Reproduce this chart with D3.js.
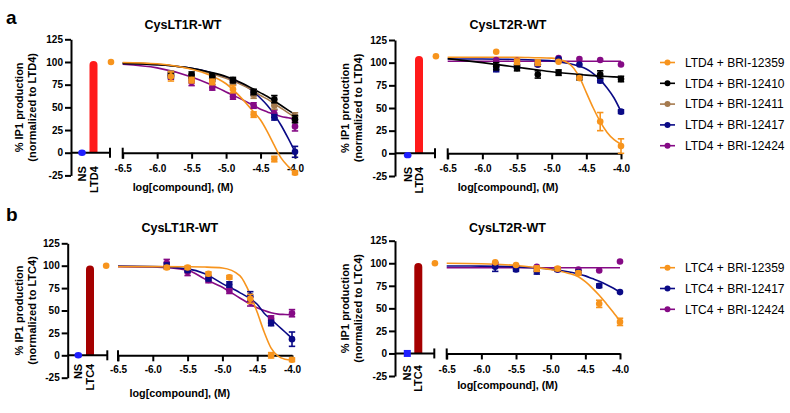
<!DOCTYPE html>
<html><head><meta charset="utf-8">
<script src="https://cdn.jsdelivr.net/npm/d3@7"></script>
<style>
body{margin:0;background:#fff}
svg{display:block}
text{font-family:"Liberation Sans",Arial,Helvetica,sans-serif;fill:#000}
</style>
</head><body>
<svg id="c" width="790" height="413"></svg>
<script>
// ---------------- DATA ----------------
const concs = [-5.8, -5.5, -5.2, -4.9, -4.6, -4.3, -4.0];
const refConc = -6.67;
const fitX = [-6.5, -6.0, -5.5, -5.25, -5.0, -4.75, -4.6, -4.5, -4.4, -4.3, -4.2, -4.1, -4.0];
const xTicks = [-6.5, -6.0, -5.5, -5.0, -4.5, -4.0];
const yTicks = [-25, 0, 25, 50, 75, 100, 125];

const titles = ["CysLT1R-WT", "CysLT2R-WT", "CysLT1R-WT", "CysLT2R-WT"];
const agonists = ["LTD4", "LTD4", "LTC4", "LTC4"];
const barValues = [101, 107, 100, 100];
const nsValues = [0, -2, 0, 0];
const refValues = [100, 107, 100, 100];

const compoundsA = ["BRI-12359", "BRI-12410", "BRI-12411", "BRI-12417", "BRI-12424"];
const compoundsB = ["BRI-12359", "BRI-12417", "BRI-12424"];

// panel a, CysLT1R
const a1_12359 = [84, 80, 78, 70, 42, -7, -22];
const a1_12359_err = [5, 3, 3, 4, 3, 3, 2];
const a1_12359_fit = [99.5, 98, 92, 86, 76, 58, 45, 36, 23, 8, -6, -15, -22];
const a1_12410 = [85, 86, 84, 80, 67, 59, 37];
const a1_12410_err = [3, 3, 3, 3, 3, 4, 4];
const a1_12410_fit = [98.5, 97, 93, 89, 84, 76, 70, 66, 62, 57, 52, 47, 42];
const a1_12411 = [87, 84, 82, 78, 64, 52, 40];
const a1_12411_err = [3, 3, 3, 3, 4, 4, 4];
const a1_12411_fit = [99, 97.5, 92.5, 88, 82, 74, 68, 63, 59, 54, 49, 44, 39];
const a1_12417 = [86, 83, 82, 78, 66, 39, 1];
const a1_12417_err = [3, 3, 3, 3, 3, 3, 6];
const a1_12417_fit = [98.5, 97, 93, 89, 83, 75, 67, 60, 52, 42, 30, 16, 1];
const a1_12424 = [84, 78, 72, 62, 52, 43, 29];
const a1_12424_err = [3, 4, 3, 3, 3, 4, 5];
const a1_12424_fit = [97.5, 93.5, 83.5, 76, 67, 58, 52, 48, 45, 42, 40, 38.5, 37];

// panel a, CysLT2R
const a2_12359 = [112, 101, 100, 101, 83, 35, 8];
const a2_12359_err = [1, 3, 3, 1, 1, 10, 8];
const a2_12359_fit = [106, 106, 106, 105.5, 105, 99, 84, 67, 50, 35, 23, 15, 10];
const a2_12410 = [96, 94, 87, 89, 84, 87, 82];
const a2_12410_err = [4, 3, 4, 3, 3, 4, 3];
const a2_12410_fit = [104.5, 100, 95, 92.5, 90, 88, 87, 86.3, 85.7, 85.2, 84.7, 84.3, 84];
const a2_12417 = [93, 96, 98, 104, 98, 80, 46];
const a2_12417_err = [3, 2, 2, 1, 1, 2, 2];
const a2_12417_fit = [104, 104, 103.5, 103, 102, 99, 96, 93, 88, 81, 72, 61, 46];
const a2_12424 = [103, 102, 98, 105, 104, 103, 98];
const a2_12424_err = [1, 1, 1, 1, 1, 1, 1];
const a2_12424_fit = [101.5, 101.5, 101.5, 101.5, 101.5, 101.5, 101.5, 101.5, 101.5, 101.5, 101.5, 101.5, 101.5];

// panel b, CysLT1R
const b1_12359 = [98, 98, 91, 87, 63, 0, -5];
const b1_12359_err = [2, 2, 2, 2, 5, 3, 2];
const b1_12359_fit = [99, 99, 98.8, 98.5, 97.5, 89, 68, 48, 26, 8, -1, -4.5, -5.5];
const b1_12417 = [100, 95, 86, 79, 66, 36, 18];
const b1_12417_err = [3, 2, 3, 3, 5, 3, 8];
const b1_12417_fit = [99.5, 99, 96.5, 91, 80, 70, 63, 57, 47, 40, 33, 26, 19];
const b1_12424 = [103, 93, 84, 72, 60, 41, 47];
const b1_12424_err = [4, 4, 3, 3, 5, 3, 4];
const b1_12424_fit = [99, 98.5, 95, 85, 76, 64, 57, 53, 50, 47.5, 46, 45.5, 45];

// panel b, CysLT2R
const b2_12359 = [101, 98, 94, 94, 89, 55, 35];
const b2_12359_err = [1, 1, 3, 2, 2, 4, 4];
const b2_12359_fit = [100, 99.5, 97.5, 95.5, 93, 89, 85, 79.5, 72.5, 64.5, 55.5, 46, 36];
const b2_12417 = [96, 93, 91, 93, 90, 75, 68];
const b2_12417_err = [5, 2, 3, 2, 2, 2, 1];
const b2_12417_fit = [97, 96.8, 96, 95, 93.5, 90.5, 88, 86, 83, 80, 76.5, 72.5, 68];
const b2_12424 = [99, 97, 96, 93, 93, 92, 102];
const b2_12424_err = [1, 1, 1, 1, 1, 1, 1];
const b2_12424_fit = [95, 95, 95, 95, 95, 95, 95, 95, 95, 95, 95, 95, 95];

const panelSeries = [
  [
    {c: "BRI-12359", v: a1_12359, e: a1_12359_err, f: a1_12359_fit},
    {c: "BRI-12410", v: a1_12410, e: a1_12410_err, f: a1_12410_fit},
    {c: "BRI-12411", v: a1_12411, e: a1_12411_err, f: a1_12411_fit},
    {c: "BRI-12417", v: a1_12417, e: a1_12417_err, f: a1_12417_fit},
    {c: "BRI-12424", v: a1_12424, e: a1_12424_err, f: a1_12424_fit}
  ],
  [
    {c: "BRI-12359", v: a2_12359, e: a2_12359_err, f: a2_12359_fit},
    {c: "BRI-12410", v: a2_12410, e: a2_12410_err, f: a2_12410_fit},
    {c: "BRI-12417", v: a2_12417, e: a2_12417_err, f: a2_12417_fit},
    {c: "BRI-12424", v: a2_12424, e: a2_12424_err, f: a2_12424_fit}
  ],
  [
    {c: "BRI-12359", v: b1_12359, e: b1_12359_err, f: b1_12359_fit},
    {c: "BRI-12417", v: b1_12417, e: b1_12417_err, f: b1_12417_fit},
    {c: "BRI-12424", v: b1_12424, e: b1_12424_err, f: b1_12424_fit}
  ],
  [
    {c: "BRI-12359", v: b2_12359, e: b2_12359_err, f: b2_12359_fit},
    {c: "BRI-12417", v: b2_12417, e: b2_12417_err, f: b2_12417_fit},
    {c: "BRI-12424", v: b2_12424, e: b2_12424_err, f: b2_12424_fit}
  ]
];

// ---------------- STYLE / LAYOUT ----------------
const colorOf = {
  "BRI-12359": "#F7941D",
  "BRI-12410": "#000000",
  "BRI-12411": "#A57A4E",
  "BRI-12417": "#0A0A86",
  "BRI-12424": "#850A85"
};
const barColors = ["#FF1A1A", "#FF1A1A", "#A50000", "#A50000"];
const nsColor = "#1F1FFF";
const nsSquare = [false, false, false, true];

const layouts = [
  {yAxisX: 71, ns: 82, bar: 93.5, breakX: 110, xStart: 122.7, xEnd: 295, yTop: 39.3, yBot: 175.4, titleY: 28.5, tickPad: 6, catOff: 13.5, xTitleOff: 38, ylx: [19, 32]},
  {yAxisX: 395, ns: 407.7, bar: 419, breakX: 435, xStart: 447.7, xEnd: 621, yTop: 40, yBot: 176, titleY: 28.5, tickPad: 6, catOff: 13.5, xTitleOff: 38, ylx: [345, 358]},
  {yAxisX: 67.7, ns: 78.3, bar: 90, breakX: 107.3, xStart: 118, xEnd: 292, yTop: 243.3, yBot: 377.7, titleY: 231.5, tickPad: 5, catOff: 8.5, xTitleOff: 42, ylx: [19, 31.7]},
  {yAxisX: 395, ns: 407.3, bar: 418.3, breakX: 434.3, xStart: 446.7, xEnd: 620, yTop: 240.7, yBot: 376, titleY: 231.5, tickPad: 6, catOff: 11.7, xTitleOff: 36, ylx: [345, 358]}
];

const svg = d3.select("#c");
const FONT = '"Liberation Sans",Arial,Helvetica,sans-serif';

function styleAxis(sel) {
  sel.select(".domain").attr("stroke", "#000").attr("stroke-width", 2);
  sel.selectAll(".tick line").attr("stroke", "#000").attr("stroke-width", 2);
  sel.selectAll(".tick text").attr("font-family", FONT).attr("font-size", 10).attr("font-weight", "bold").attr("fill", "#000");
}

function drawPanel(i) {
  const L = layouts[i];
  const g = svg.append("g");
  const y = d3.scaleLinear().domain([-25, 125]).range([L.yBot, L.yTop]);
  const x = d3.scaleLinear().domain([-6.5, -4.0]).range([L.xStart, L.xEnd]);
  const xc = d3.scalePoint().domain(["NS", agonists[i]]).range([L.ns, L.bar]);
  const y0 = y(0);

  // bar (rounded top, flat base)
  const bw = 8, r = 3.8;
  const bx = xc(agonists[i]) - bw / 2, bt = y(barValues[i]);
  g.append("path")
    .attr("d", `M${bx},${y0} V${bt + r} A${r},${r} 0 0 1 ${bx + bw},${bt + r} V${y0} Z`)
    .attr("fill", barColors[i]);

  // y axis
  const ya = g.append("g").attr("transform", `translate(${L.yAxisX},0)`)
    .call(d3.axisLeft(y).tickValues(yTicks).tickFormat(d => String(d)).tickSize(6).tickSizeOuter(0).tickPadding(2));
  styleAxis(ya);

  // x axis, bar segment
  g.append("line").attr("x1", L.yAxisX).attr("x2", L.breakX).attr("y1", y0).attr("y2", y0)
    .attr("stroke", "#000").attr("stroke-width", 2);
  g.append("line").attr("x1", L.breakX).attr("x2", L.breakX).attr("y1", y0 - 5).attr("y2", y0 + 5)
    .attr("stroke", "#000").attr("stroke-width", 2);

  // x axis, concentration segment
  const xa = g.append("g").attr("transform", `translate(0,${y0})`)
    .call(d3.axisBottom(x).tickValues(xTicks).tickFormat(d => d.toFixed(1)).tickSize(6).tickSizeOuter(0).tickPadding(L.tickPad));
  styleAxis(xa);
  g.append("line").attr("x1", L.xStart).attr("x2", L.xStart).attr("y1", y0 - 5).attr("y2", y0 + 6)
    .attr("stroke", "#000").attr("stroke-width", 2);

  // NS point
  if (nsSquare[i]) {
    g.append("rect").attr("x", xc("NS") - 3.5).attr("y", y(nsValues[i]) - 3.5).attr("width", 7).attr("height", 7).attr("fill", nsColor);
  } else {
    g.append("ellipse").attr("cx", xc("NS")).attr("cy", y(nsValues[i])).attr("rx", 3.8).attr("ry", 3.2).attr("fill", nsColor);
  }

  // category labels
  xc.domain().forEach(c => {
    g.append("text").attr("transform", `translate(${xc(c) + 4},${y0 + L.catOff}) rotate(-90)`)
      .attr("text-anchor", "end").attr("font-size", 11).attr("font-weight", "bold").text(c);
  });

  // titles
  const cx = (L.yAxisX + L.xEnd) / 2;
  g.append("text").attr("x", cx).attr("y", L.titleY).attr("text-anchor", "middle")
    .attr("font-size", 12.5).attr("font-weight", "bold").text(titles[i]);
  g.append("text").attr("x", cx).attr("y", y0 + L.xTitleOff).attr("text-anchor", "middle")
    .attr("font-size", 10.8).attr("font-weight", "bold").text("log[compound], (M)");
  const ym = (L.yTop + L.yBot) / 2;
  ["% IP1 production", "(normalized to " + agonists[i] + ")"].forEach((t, k) => {
    g.append("text").attr("transform", `translate(${L.ylx[k]},${ym}) rotate(-90)`)
      .attr("text-anchor", "middle").attr("dy", "0.35em")
      .attr("font-size", 11).attr("font-weight", "bold").text(t);
  });

  // series (reverse order so first series sits on top)
  const line = d3.line().x(d => x(d[0])).y(d => y(d[1])).curve(d3.curveMonotoneX);
  const series = panelSeries[i].slice().reverse();
  series.forEach(s => {
    g.append("path").datum(fitX.map((xv, k) => [xv, s.f[k]]))
      .attr("d", line).attr("fill", "none").attr("stroke", colorOf[s.c]).attr("stroke-width", 1.6);
  });
  series.forEach(s => {
    const col = colorOf[s.c];
    const sg = g.append("g");
    concs.forEach((cv, k) => {
      const xx = x(cv), v = s.v[k], e = s.e[k];
      if (e > 1.2) {
        sg.append("line").attr("x1", xx).attr("x2", xx).attr("y1", y(v - e)).attr("y2", y(v + e))
          .attr("stroke", col).attr("stroke-width", 1.6);
        [v - e, v + e].forEach(ev => sg.append("line").attr("x1", xx - 3.2).attr("x2", xx + 3.2)
          .attr("y1", y(ev)).attr("y2", y(ev)).attr("stroke", col).attr("stroke-width", 1.6));
      }
      sg.append("circle").attr("cx", xx).attr("cy", y(v)).attr("r", 3.3).attr("fill", col);
    });
  });
  // reference (no compound) point
  g.append("circle").attr("cx", x(refConc)).attr("cy", y(refValues[i])).attr("r", 3.3)
    .attr("fill", colorOf[panelSeries[i][0].c]);
}

[0, 1, 2, 3].forEach(drawPanel);

// panel letters
svg.append("text").attr("x", 6).attr("y", 23.5).attr("font-size", 19).attr("font-weight", "bold").text("a");
svg.append("text").attr("x", 6).attr("y", 221).attr("font-size", 19).attr("font-weight", "bold").text("b");

// legends
function legend(items, agonist, y0) {
  items.forEach((c, k) => {
    const yy = y0 + k * 20.8;
    const col = colorOf[c];
    svg.append("line").attr("x1", 660).attr("x2", 675).attr("y1", yy).attr("y2", yy)
      .attr("stroke", col).attr("stroke-width", 1.6);
    svg.append("circle").attr("cx", 667.5).attr("cy", yy).attr("r", 3).attr("fill", col);
    svg.append("text").attr("x", 685).attr("y", yy).attr("dy", "0.35em")
      .attr("font-size", 12).text(agonist + " + " + c);
  });
}
legend(compoundsA, "LTD4", 62.5);
legend(compoundsB, "LTC4", 267.7);
</script>
</body></html>
